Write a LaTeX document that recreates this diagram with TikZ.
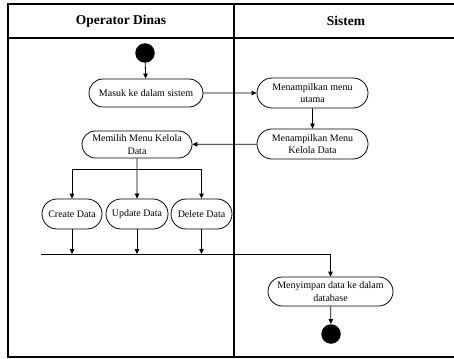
\documentclass[tikz,border=0pt]{standalone}
\usepackage{fontspec}
\setmainfont{Liberation Serif}
\usepackage{tikz}
\usetikzlibrary{arrows.meta,shapes.misc}

\begin{document}
\begin{tikzpicture}[x=1pt,y=-1pt,
  lane/.style={line width=1.1pt},
  lanehead/.style={font=\fontsize{13.5}{15}\selectfont\bfseries},
  act/.style={draw,rounded rectangle,line width=0.8pt,align=center,inner sep=1pt,font=\fontsize{10}{12.5}\selectfont},
  dot/.style={circle,fill=black,minimum size=19.5pt,inner sep=0pt},
  flow/.style={line width=0.8pt,-{Triangle[length=5pt,width=4.5pt]}}]
\useasboundingbox (0,0) rectangle (454,358);

\draw [lane](8,4) rectangle (460,357);
\draw [lane](8,38)--(460,38);
\draw [lane](234,4)--(234,357);
\node [lanehead] (opLane) at (121,21) {Operator Dinas};
\node [lanehead] (sysLane) at (346,21) {Sistem};

\node [dot] (start) at (145,53) {};
\node [act,minimum width=116pt,minimum height=28pt] (masuk) at (146,93) {Masuk ke dalam sistem};
\node [act,minimum width=113pt,minimum height=30pt] (utama) at (312.5,93) {Menampilkan menu\\utama};
\node [act,minimum width=113pt,minimum height=30pt] (kelola) at (312.5,144) {Menampilkan Menu\\Kelola Data};
\node [act,minimum width=112pt,minimum height=27pt] (memilih) at (137,144.5) {Memilih Menu Kelola\\Data};
\node [act,minimum width=62pt,minimum height=30pt] (create) at (72,214) {Create Data};
\node [act,minimum width=64pt,minimum height=30pt] (update) at (137,214) {Update Data};
\node [act,minimum width=63pt,minimum height=30pt] (delete) at (201.5,214) {Delete Data};
\node [act,minimum width=127pt,minimum height=29pt] (simpan) at (330.5,291.5) {Menyimpan data ke dalam\\database};
\node [dot] (finish) at (331,334) {};

\coordinate (fork) at (137,169);
\coordinate (join) at (41,254);

\draw [flow](start)--(masuk);
\draw [flow](masuk)--(utama);
\draw [flow](utama)--(kelola);
\draw [flow](kelola)--(memilih);

\draw [flow](memilih)--(update);
\draw [flow](fork)-|(create);
\draw [flow](fork)-|(delete);

\draw [flow](create)--(create|-join);
\draw [flow](update)--(update|-join);
\draw [flow](delete)--(delete|-join);
\draw [flow](join)-|(simpan);
\draw [flow](simpan)--(finish);
\end{tikzpicture}
\end{document}
